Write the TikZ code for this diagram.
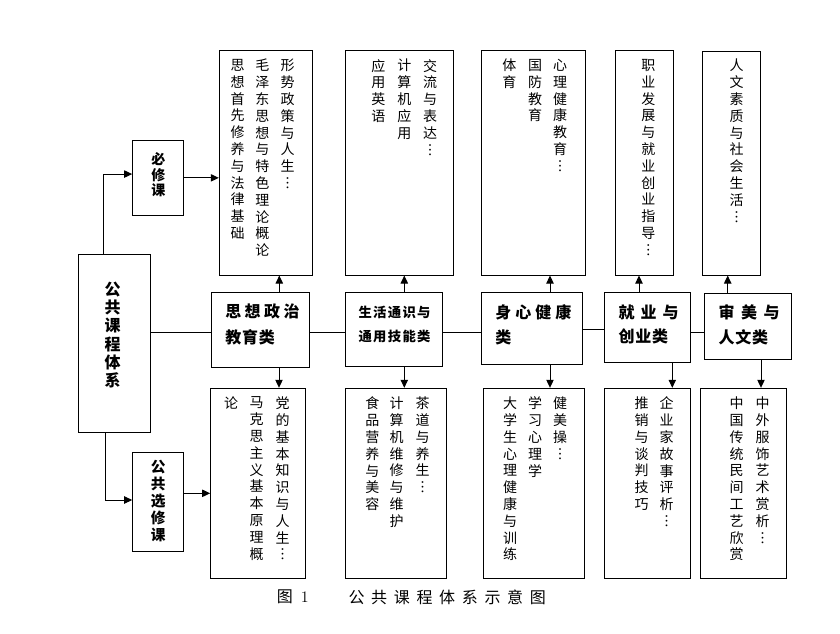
\documentclass[tikz,border=0pt]{standalone}
\usepackage{fontspec}
\newfontfamily\cjk{Noto Sans CJK SC}
\usetikzlibrary{arrows.meta,fit,calc}
\newdimen\rowpitch
\def\vcolloop#1{\ifx\relax#1\else\hbox to 1.2em{\hss#1\hss}\expandafter\vcolloop\fi}
\newcommand\vcol[2][12.6pt]{\vtop{\baselineskip=#1\lineskiplimit=-100pt\lineskip=0pt\vcolloop#2\relax}}
\def\hrowloop#1{\ifx\relax#1\else\hbox to \rowpitch{#1\hss}\expandafter\hrowloop\fi}
\newcommand\hrow[2]{\hbox{\rowpitch=#1\relax\hrowloop#2\relax}}
\begin{document}
\begin{tikzpicture}[x=0.75pt,y=-0.75pt,
  box/.style={draw, line width=0.75pt, inner sep=0pt},
  arr/.style={line width=0.75pt, -{Triangle[length=6pt,width=5.5pt]}},
  ln/.style={line width=0.75pt},
  txt/.style={font=\cjk\fontsize{10.5}{12}\selectfont, inner sep=0pt, anchor=north},
  lab/.style={font=\cjk\bfseries\fontsize{12}{14}\selectfont, inner sep=0pt, anchor=west},
  labs/.style={font=\cjk\bfseries\fontsize{10}{12}\selectfont, inner sep=0pt, anchor=west},
  vlab/.style={inner sep=0pt, anchor=north},
  captxt/.style={font=\cjk\fontsize{12}{14}\selectfont, inner sep=0pt, anchor=west}
]
\useasboundingbox (0,0) rectangle (840,633);
\fill[white] (0,0) rectangle (840,633);

% left boxes
\node[box, fit={(78.3,254.3) (150.7,432.3)}] (root) {};
\node[box, fit={(132.7,140) (183.3,215.7)}] (req) {};
\node[box, fit={(132.7,452.3) (183.3,551.7)}] (ele) {};
\node[vlab, font=\cjk\bfseries\fontsize{12}{14}\selectfont] (rootT) at (112.7,281.7) {\vcol[13.7pt]{公共课程体系}};
\node[vlab, font=\cjk\bfseries\fontsize{10.5}{12}\selectfont] (reqT) at (158.3,152.7) {\vcol[11.6pt]{必修课}};
\node[vlab, font=\cjk\bfseries\fontsize{11}{13}\selectfont] (eleT) at (158.3,460) {\vcol[12.7pt]{公共选修课}};

% top boxes
\node[box, fit={(219.3,50.7) (312.3,275)}] (tA) {};
\node[box, fit={(345,50.7) (453.3,275)}] (tB) {};
\node[box, fit={(481.7,50.7) (585,275)}] (tC) {};
\node[box, fit={(615.7,50.7) (673.3,275)}] (tD) {};
\node[box, fit={(702.3,51.7) (760,275)}] (tE) {};

\node[txt] (tA1) at (287.7,59) {\vcol{形势政策与人生︙}};
\node[txt] (tA2) at (262.3,59) {\vcol{毛泽东思想与特色理论概论}};
\node[txt] (tA3) at (237.7,59) {\vcol{思想首先修养与法律基础}};
\node[txt] (tB1) at (430,59) {\vcol{交流与表达︙}};
\node[txt] (tB2) at (404.3,59) {\vcol{计算机应用}};
\node[txt] (tB3) at (378.3,59) {\vcol{应用英语}};
\node[txt] (tC1) at (560,59) {\vcol{心理健康教育︙}};
\node[txt] (tC2) at (535,59) {\vcol{国防教育}};
\node[txt] (tC3) at (509.3,59) {\vcol{体育}};
\node[txt] (tD1) at (648.3,59) {\vcol{职业发展与就业创业指导︙}};
\node[txt] (tE1) at (736.7,59) {\vcol{人文素质与社会生活︙}};

% middle boxes
\node[box, fit={(211.7,292.3) (309.3,367.3)}] (mA) {};
\node[box, fit={(345.7,292.3) (442.3,366)}] (mB) {};
\node[box, fit={(481.7,292.3) (582.3,364)}] (mC) {};
\node[box, fit={(604.3,292.3) (690.7,362.3)}] (mD) {};
\node[box, fit={(704.3,293.3) (791.7,359.3)}] (mE) {};

\node[lab] (mA1) at (225,311.7) {\hrow{14.6pt}{思想政治}};
\node[lab] (mA2) at (225,337.3) {\hrow{12.6pt}{教育类}};
\node[labs] (mB1) at (358.3,312.3) {\hrow{11pt}{生活通识与}};
\node[labs] (mB2) at (358.3,336.7) {\hrow{11pt}{通用技能类}};
\node[lab] (mC1) at (495,312.3) {\hrow{15pt}{身心健康}};
\node[lab] (mC2) at (495,337.3) {\hrow{15pt}{类}};
\node[lab] (mD1) at (618.3,312.3) {\hrow{16.5pt}{就业与}};
\node[lab] (mD2) at (618.3,336.7) {\hrow{12.6pt}{创业类}};
\node[lab] (mE1) at (718.3,312.3) {\hrow{16.9pt}{审美与}};
\node[lab] (mE2) at (718.3,337.3) {\hrow{12.6pt}{人文类}};

% bottom boxes
\node[box, fit={(210.7,388.3) (305.7,578.3)}] (bA) {};
\node[box, fit={(345.7,388.3) (446,578.3)}] (bB) {};
\node[box, fit={(483.3,388.3) (584.3,578.3)}] (bC) {};
\node[box, fit={(604.3,388.3) (690.7,578.3)}] (bD) {};
\node[box, fit={(700.7,388.3) (786.7,578.3)}] (bE) {};

\node[txt] (bA1) at (282.7,396.7) {\vcol{党的基本知识与人生︙}};
\node[txt] (bA2) at (256.7,396.7) {\vcol{马克思主义基本原理概}};
\node[txt] (bA3) at (231,396.7) {\vcol{论}};
\node[txt] (bB1) at (422.7,396.7) {\vcol{茶道与养生︙}};
\node[txt] (bB2) at (396.7,396.7) {\vcol{计算机维修与维护}};
\node[txt] (bB3) at (372.3,396.7) {\vcol{食品营养与美容}};
\node[txt] (bC1) at (560,396.7) {\vcol{健美操︙}};
\node[txt] (bC2) at (535,396.7) {\vcol{学习心理学}};
\node[txt] (bC3) at (510,396.7) {\vcol{大学生心理健康与训练}};
\node[txt] (bD1) at (666.7,396.7) {\vcol{企业家故事评析︙}};
\node[txt] (bD2) at (641.7,396.7) {\vcol{推销与谈判技巧}};
\node[txt] (bE1) at (762.7,396.7) {\vcol{中外服饰艺术赏析︙}};
\node[txt] (bE2) at (736.7,396.7) {\vcol{中国传统民间工艺欣赏}};

% caption
\node[captxt] (cap1) at (276.7,597) {图\hspace{6pt}{\normalfont 1}};
\node[captxt] (cap2) at (348.3,597) {\hrow{17pt}{公共课程体系示意图}};

% connectors
\coordinate (rt) at (103.3,0);
\coordinate (rb) at (105,0);
\draw[arr] (root.north -| rt) |- ($(req.west)+(0,-3.8)$);
\draw[arr] (root.south -| rb) |- ($(ele.west)+(0,-2)$);
\draw[arr] (req.east) -- (req.east -| tA.west);
\coordinate (eo) at ($(ele.east)+(0,-8.7)$);
\draw[arr] (eo) -- (eo -| bA.west);

\coordinate (ym) at (0,332.7);
\coordinate (yc) at (0,329);
\draw[ln] (root.east |- ym) -- (mA.west |- ym);
\draw[ln] (mA.east |- ym) -- (mB.west |- ym);
\draw[ln] (mB.east |- ym) -- (mC.west |- ym);
\draw[ln] (mC.east |- yc) -- (mD.west |- yc);
\draw[ln] (mD.east |- ym) -- (mE.west |- ym);

\coordinate (ua) at (279.3,0);
\coordinate (ub) at (404.3,0);
\coordinate (uc) at (550,0);
\coordinate (ud) at (639,0);
\coordinate (ue) at (727.7,0);
\coordinate (da) at (279,0);
\coordinate (db) at (404.3,0);
\coordinate (dc) at (550,0);
\coordinate (dd) at (672.3,0);
\coordinate (de) at (761,0);
\draw[arr] (mA.north -| ua) -- (tA.south -| ua);
\draw[arr] (mB.north -| ub) -- (tB.south -| ub);
\draw[arr] (mC.north -| uc) -- (tC.south -| uc);
\draw[arr] (mD.north -| ud) -- (tD.south -| ud);
\draw[arr] (mE.north -| ue) -- (tE.south -| ue);
\draw[arr] (mA.south -| da) -- (bA.north -| da);
\draw[arr] (mB.south -| db) -- (bB.north -| db);
\draw[arr] (mC.south -| dc) -- (bC.north -| dc);
\draw[arr] (mD.south -| dd) -- (bD.north -| dd);
\draw[arr] (mE.south -| de) -- (bE.north -| de);
\end{tikzpicture}
\end{document}
